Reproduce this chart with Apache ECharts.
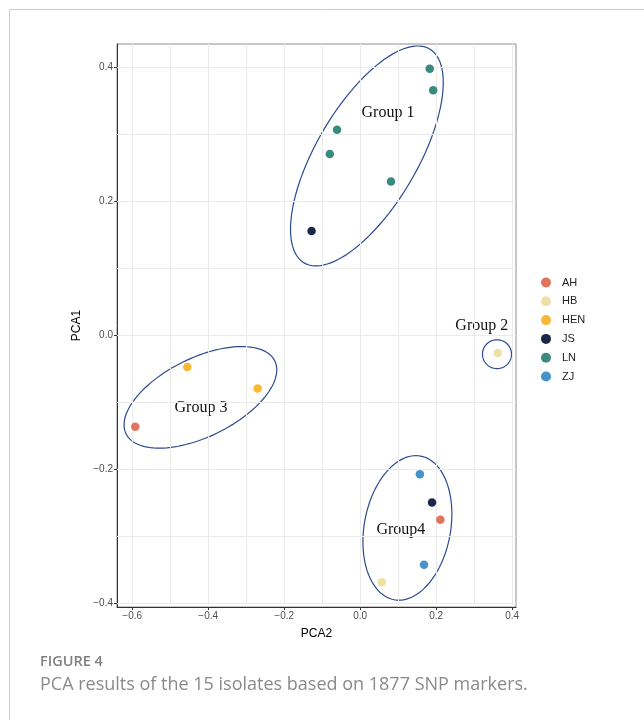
<!DOCTYPE html>
<html><head><meta charset="utf-8">
<script src="https://cdn.jsdelivr.net/npm/echarts@6/dist/echarts.min.js"></script>
<style>html,body{margin:0;padding:0;background:#fff}#c{width:644px;height:720px}</style>
</head><body><div id="c"></div>
<script>
// ---- data ----
const regions = ['AH','HB','HEN','JS','LN','ZJ'];
const isolateRegion = ['LN','LN','LN','LN','LN','JS','AH','HEN','HEN','HB','ZJ','JS','AH','ZJ','HB'];
const pca2 = [0.183,0.192,-0.061,-0.080,0.081,-0.128,-0.592,-0.455,-0.270,0.362,0.157,0.189,0.211,0.168,0.057];
const pca1 = [0.398,0.366,0.307,0.271,0.230,0.156,-0.136,-0.047,-0.079,-0.026,-0.207,-0.249,-0.275,-0.342,-0.368];
const xTicks = [-0.6,-0.4,-0.2,0,0.2,0.4];
const yTicks = [-0.4,-0.2,0,0.2,0.4];
const xMinor = [-0.5,-0.3,-0.1,0.1,0.3];
const yMinor = [-0.3,-0.1,0.1,0.3];
const groupNames = ['Group 1','Group 2','Group 3','Group4'];
// group ellipses: centre (PCA2, PCA1) and two conjugate semi-axis vectors, in data units
const groupEllipses = [
  [0.0176, 0.268, 0.1651, 0.1596, 0.1146, -0.0381],
  [0.360, -0.0278, 0.0382, 0, 0, 0.0215],
  [-0.4205, -0.0922, 0.1957, 0.0544, 0.0456, -0.0528],
  [0.1242, -0.287, 0.0347, 0.1072, 0.1118, -0.01164]
];
const groupLabelPos = [[0.073,0.332],[0.320,0.0145],[-0.419,-0.108],[0.107,-0.290]];

// ---- style ----
const colors = {AH:'#E3735E', HB:'#EFE0A6', HEN:'#F9B935', JS:'#1A2747', LN:'#3B8A7F', ZJ:'#4593C8'};
const fmt = v => { const s = Math.abs(v).toFixed(1); return v < -1e-9 ? '\u2212' + s : s; };

const chart = echarts.init(document.getElementById('c'), null, {renderer:'canvas'});

const pointSeries = regions.map(r => ({
  name: r, type: 'scatter', symbolSize: 8.5, z: 5,
  itemStyle: {color: colors[r], opacity: 1},
  data: pca2.map((x,i) => isolateRegion[i] === r ? [x, pca1[i]] : null).filter(d => d)
}));

const gridLineStyle = {color:'#ebebeb', width:1, type:'solid'};
const gridSeries = {
  type:'line', data:[], z:1, silent:true,
  markLine:{
    silent:true, symbol:['none','none'], label:{show:false}, animation:false,
    lineStyle: gridLineStyle, emphasis:{disabled:true},
    data: [
      ...xTicks.map(v => ({xAxis:v})), ...xMinor.map(v => ({xAxis:v})),
      ...yTicks.map(v => ({yAxis:v})), ...yMinor.map(v => ({yAxis:v}))
    ]
  }
};

const ellipseSeries = {
  type:'custom', z:3, silent:true, clip:false,
  encode:{x:0, y:1},
  data: groupEllipses,
  renderItem: (params, api) => {
    const cx = api.value(0), cy = api.value(1), ux = api.value(2), uy = api.value(3), vx = api.value(4), vy = api.value(5);
    const pts = [];
    const n = 120;
    for (let k = 0; k < n; k++) {
      const t = 2*Math.PI*k/n;
      pts.push(api.coord([cx + ux*Math.cos(t) + vx*Math.sin(t), cy + uy*Math.cos(t) + vy*Math.sin(t)]));
    }
    return {type:'polygon', shape:{points:pts}, style:{fill:null, stroke:'#2B4A92', lineWidth:1.2}};
  }
};

const labelSeries = {
  type:'custom', z:4, silent:true, clip:false,
  encode:{x:0, y:1},
  data: groupLabelPos.map((p,i) => [p[0], p[1], i]),
  renderItem: (params, api) => {
    const p = api.coord([api.value(0), api.value(1)]);
    return {type:'text', x:p[0], y:p[1], style:{text: groupNames[api.value(2)], align:'center', verticalAlign:'middle', fontFamily:'Liberation Serif', fontSize:16, fill:'#111'}};
  }
};

chart.setOption({
  animation:false,
  backgroundColor:'#fff',
  grid:{left:117, top:44, right:128, bottom:113, show:true, borderColor:'#8c8c8c', borderWidth:1, backgroundColor:'transparent'},
  xAxis:{
    type:'value', min:-0.64, max:0.41,
    name:'PCA2', nameLocation:'middle', nameGap:21,
    nameTextStyle:{fontFamily:'Liberation Sans', fontSize:12, color:'#000'},
    axisLine:{show:true, onZero:false, lineStyle:{color:'#333', width:1}},
    axisTick:{show:true, length:3, customValues:xTicks, lineStyle:{color:'#333'}},
    axisLabel:{customValues:xTicks, formatter:fmt, fontFamily:'Liberation Sans', fontSize:10, color:'#4d4d4d', margin:4, showMinLabel:true, showMaxLabel:true},
    splitLine:{show:false}
  },
  yAxis:{
    type:'value', min:-0.405, max:0.435,
    name:'PCA1', nameLocation:'middle', nameGap:34,
    nameTextStyle:{fontFamily:'Liberation Sans', fontSize:12, color:'#000'},
    axisLine:{show:true, onZero:false, lineStyle:{color:'#333', width:1}},
    axisTick:{show:true, length:3, customValues:yTicks, lineStyle:{color:'#333'}},
    axisLabel:{customValues:yTicks, formatter:fmt, fontFamily:'Liberation Sans', fontSize:10, color:'#4d4d4d', margin:4},
    splitLine:{show:false}
  },
  legend:{
    data: regions, orient:'vertical', left:536, top:272,
    icon:'circle', itemWidth:10, itemHeight:10, itemGap:7.8,
    textStyle:{fontFamily:'Liberation Sans', fontSize:11, color:'#222', padding:[0,0,0,6]}
  },
  graphic:[
    {type:'line', shape:{x1:9.5, y1:9.5, x2:644, y2:9.5}, style:{stroke:'#cccccc', lineWidth:1}},
    {type:'line', shape:{x1:9.5, y1:9.5, x2:9.5, y2:720}, style:{stroke:'#cccccc', lineWidth:1}},
    {type:'text', left:40, top:654, style:{text:'FIGURE 4', fontFamily:'Open Sans', fontWeight:600, fontSize:14.5, fill:'#808080'}},
    {type:'text', left:40, top:676, style:{text:'PCA results of the 15 isolates based on 1877 SNP markers.', fontFamily:'Open Sans', fontSize:18, fill:'#8a8a8a'}}
  ],
  series:[gridSeries, ellipseSeries, ...pointSeries, labelSeries]
});
</script>
</body></html>
